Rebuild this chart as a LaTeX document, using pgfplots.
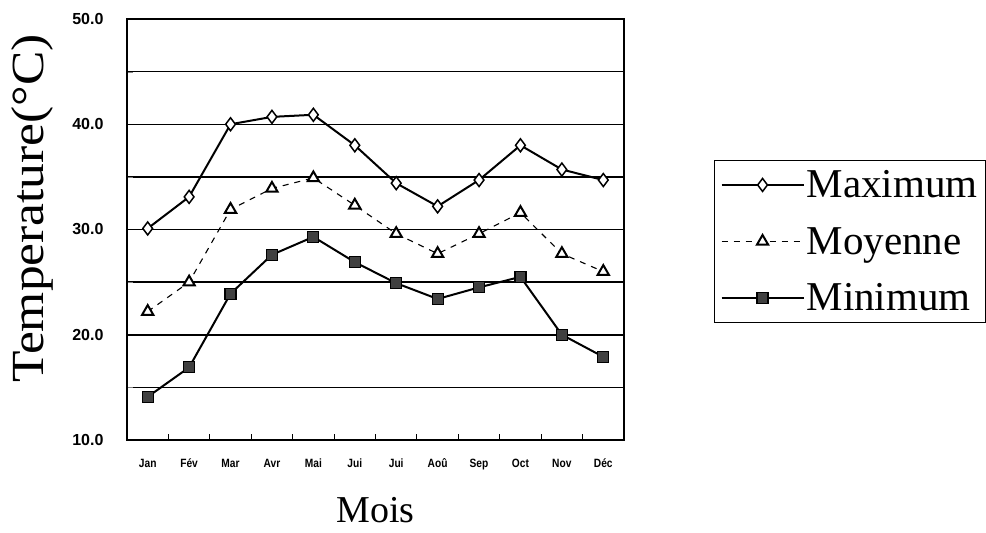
\documentclass[border=0pt]{standalone}
\usepackage{fontspec}
\setmainfont{Liberation Serif}
\setsansfont{Liberation Sans}
\usepackage{pgfplots}
\pgfplotsset{compat=1.18}

\begin{document}
\begin{tikzpicture}
\begin{axis}[
    scale only axis,
    width=497pt,
    height=421pt,
    xmin=-0.5, xmax=11.5,
    ymin=10, ymax=50,
    xtick={0,...,11},
    xticklabels={Jan,Fév,Mar,Avr,Mai,Jui,Jui,Aoû,Sep,Oct,Nov,Déc},
    major x tick style={draw=none},
    minor xtick={0.5,1.5,...,10.5},
    minor x tick style={black, line width=1pt},
    minor tick length=6pt,
    ytick={10,20,30,40,50},
    minor ytick={15,25,35,45},
    ymajorgrids, yminorgrids,
    major grid style={black, line width=1.5pt},
    minor grid style={black, line width=1.5pt},
    major y tick style={black, line width=1pt},
    major tick length=6pt,
    tick pos=left,
    tick align=inside,
    axis line style={line width=2.3pt},
    yticklabel={\pgfmathprintnumber[fixed,fixed zerofill,precision=1]{\tick}},
    /pgf/number format/assume math mode=true,
    yticklabel style={font=\sffamily\bfseries\fontsize{16}{16}\selectfont, xshift=-20pt},
    xticklabel style={font=\sffamily\bfseries\fontsize{12}{12}\selectfont, yshift=-14pt,
        xscale=0.85, text height=10pt, text depth=3pt},
    ylabel={Temperature(°C)},
    ylabel style={at={(axis description cs:-0.191,0.55)}, anchor=center,
        font=\fontsize{46}{46}\selectfont, xscale=1.12},
    xlabel={Mois},
    xlabel style={at={(axis description cs:0.5,-0.166)}, anchor=center, font=\fontsize{38}{38}\selectfont},
    legend style={at={(axis description cs:1.181,0.665)}, anchor=north west,
        draw=black, line width=1.2pt, font=\fontsize{41}{41}\selectfont,
        row sep=24pt, inner xsep=6pt, inner ysep=8pt,
        nodes={inner sep=2pt}},
    legend cell align=left,
    legend image code/.code={
        \draw[#1] (0pt,0pt) -- (82pt,0pt);
        \draw[#1, solid, mark repeat=1] plot coordinates {(41pt,0pt)};
    },
]

\addplot[black, line width=2pt, mark=diamond*, mark size=6.5pt,
    mark options={fill=white, line width=1.5pt}] coordinates {
(0,30.1) (1,33.1) (2,40.0) (3,40.7) (4,40.9) (5,38.0)
(6,34.4) (7,32.2) (8,34.7) (9,38.0) (10,35.7) (11,34.7)
};
\addlegendentry{Maximum}

\addplot[black, line width=1.1pt, dash pattern=on 6pt off 6pt, mark=triangle*, mark size=6.5pt,
    mark options={solid, fill=white, line width=2pt}] coordinates {
(0,22.2) (1,25.0) (2,31.9) (3,33.9) (4,34.9) (5,32.3)
(6,29.6) (7,27.7) (8,29.6) (9,31.6) (10,27.7) (11,26.0)
};
\addlegendentry{Moyenne}

\addplot[black, line width=2pt, mark=square*, mark size=5.5pt,
    mark options={fill=black!75, line width=1.2pt}] coordinates {
(0,14.1) (1,16.9) (2,23.9) (3,27.6) (4,29.3) (5,26.9)
(6,24.9) (7,23.4) (8,24.5) (9,25.5) (10,20.0) (11,17.9)
};
\addlegendentry{Minimum}
\end{axis}
\path[use as bounding box] (-127pt,-93pt) rectangle (859pt,440pt);
\end{tikzpicture}
\end{document}
